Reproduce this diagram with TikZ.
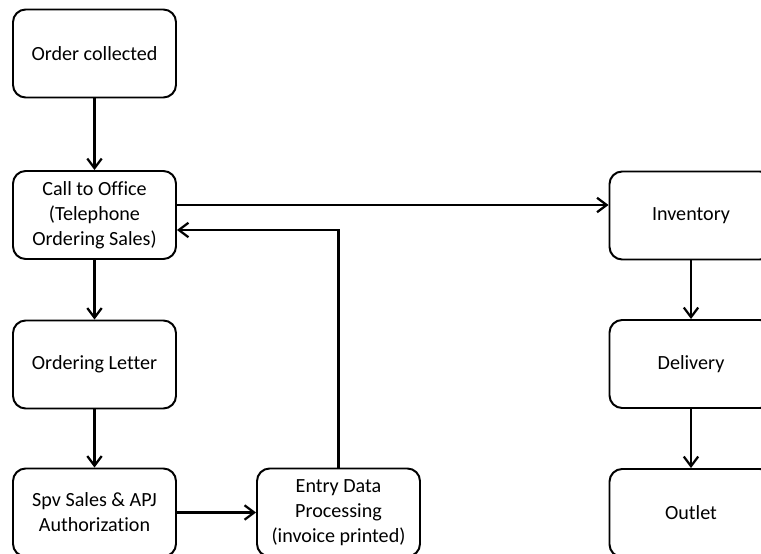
\documentclass[tikz,border=0pt]{standalone}
\usepackage{fontspec}
\setmainfont{Carlito}[Ligatures=NoCommon]
\usepackage{tikz}
\usetikzlibrary{arrows.meta, positioning}

\begin{document}
\begin{tikzpicture}[
  proc/.style={draw, line width=1.4pt, rounded corners=9pt, minimum width=4.075cm, minimum height=2.2cm, fill=white, font=\fontsize{14.3}{17.8}\selectfont, align=center},
  arr/.style={-{Straight Barb[length=2.4mm, width=3.6mm]}, line width=1.6pt}
]
  \clip (0,0) rectangle (19.025,13.825);

  % 1. Left column
  \node[proc] (order) at (2.3625, 12.4875) {Order collected};
  \node[proc] (call) at (2.3625, 8.45) {Call to Office\\(Telephone\\Ordering Sales)};
  \node[proc] (letter) at (2.3625, 4.7125) {Ordering Letter};
  \node[proc] (spv) at (2.3625, 1.0125) {Spv Sales \& APJ\\Authorization};

  % 2. Data entry
  \node[proc] (entry) at (8.4625, 1.0125) {Entry Data\\Processing\\(invoice printed)};

  % 3. Right column
  \node[proc] (inv) at (17.275, 8.4375) {Inventory};
  \node[proc] (deliv) at (17.275, 4.725) {Delivery};
  \node[proc] (outlet) at (17.275, 1.0) {Outlet};

  % Arrows down the left column
  \draw[arr] (order) -- (call);
  \draw[arr] (call) -- (letter);
  \draw[arr] (letter) -- (spv);
  \draw[arr] (spv) -- (entry);

  % Call to Office to Inventory and back from Entry Data
  \coordinate (callout) at ([yshift=0.25cm]call.east);
  \coordinate (callin) at ([yshift=-0.375cm]call.east);
  \draw[arr] (callout) -- (callout -| inv.west);
  \draw[arr] (entry.north) |- (callin);

  % Arrows down the right column
  \draw[arr] (inv) -- (deliv);
  \draw[arr] (deliv) -- (outlet);

\end{tikzpicture}
\end{document}
